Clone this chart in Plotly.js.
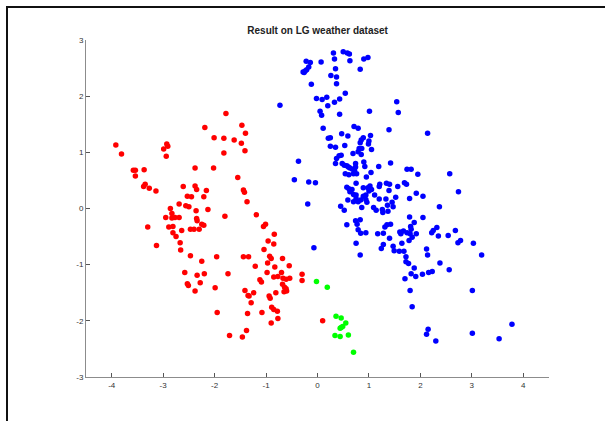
<!DOCTYPE html>
<html>
<head>
<meta charset="utf-8">
<script src="https://cdn.plot.ly/plotly-3.0.1.min.js"></script>
<style>
html,body{margin:0;padding:0;background:#fff;overflow:hidden;}
#chart{position:absolute;left:0;top:0;width:605px;height:421px;}
#frame{position:absolute;left:6px;top:6px;width:700px;height:500px;border:2px solid #111;pointer-events:none;}
</style>
</head>
<body>
<div id="chart"></div>
<div id="frame"></div>
<script>
const titleText = "Result on LG weather dataset";
const xTicks = [-4,-3,-2,-1,0,1,2,3,4];
const yTicks = [-3,-2,-1,0,1,2,3];

const redX = [-1.78,-2.19,-1.47,-1.40,-2.01,-1.82,-1.62,-1.48,-3.92,-2.93,
-2.91,-2.99,-1.41,-1.82,-3.81,-2.94,-2.38,-2.02,-3.58,-3.54,
-3.37,-3.54,-1.55,-3.35,-3.38,-3.27,-3.14,-2.61,-2.38,-2.35,
-2.16,-1.44,-1.42,-2.53,-2.45,-2.21,-1.37,-2.69,-2.56,-2.50,
-2.86,-2.36,-2.13,-1.19,-1.80,-2.95,-2.83,-2.77,-2.69,-2.83,
-2.35,-2.34,-3.30,-2.25,-2.21,-2.89,-2.81,-2.81,-2.75,-2.64,
-2.47,-2.40,-2.30,-3.13,-2.67,-2.66,-2.47,-2.25,-1.96,-1.44,
-1.34,-1.21,-2.58,-2.34,-2.20,-1.74,-1.12,-2.53,-2.51,-2.28,
-2.38,-1.99,-1.41,-1.35,-1.33,-1.24,-1.29,-1.95,-1.36,-1.38,
-1.71,-1.46,-1.05,-1.01,-0.84,-0.96,-0.85,-1.04,-0.93,-0.90,
-0.68,-0.97,-0.83,-0.55,-0.98,-0.70,-0.85,-0.77,-0.67,-0.61,
-0.54,-0.30,-0.30,-1.09,-0.68,-0.64,-0.61,-0.60,-0.65,-0.94,
-0.92,-0.81,-0.89,-0.85,-0.78,-1.08,-0.77,-0.90,0.10];
const redY = [1.69,1.44,1.48,1.34,1.26,1.25,1.22,1.16,1.13,1.15,
1.11,1.06,1.03,0.99,0.97,0.93,0.72,0.72,0.68,0.68,
0.69,0.58,0.55,0.43,0.39,0.36,0.31,0.39,0.40,0.34,
0.32,0.33,0.29,0.22,0.21,0.21,0.12,0.08,0.05,0.03,
0.00,-0.04,-0.02,-0.11,-0.14,-0.16,-0.17,-0.16,-0.16,-0.09,
-0.18,-0.22,-0.33,-0.28,-0.30,-0.33,-0.32,-0.43,-0.50,-0.39,
-0.37,-0.37,-0.37,-0.66,-0.61,-0.74,-0.84,-0.94,-0.86,-0.86,
-0.86,-1.03,-1.14,-1.19,-1.16,-1.16,-1.27,-1.34,-1.37,-1.32,
-1.47,-1.41,-1.46,-1.55,-1.56,-1.50,-1.68,-1.85,-1.87,-2.17,
-2.26,-2.29,-0.32,-0.28,-0.46,-0.58,-0.63,-0.73,-0.85,-0.89,
-0.89,-0.97,-1.04,-1.02,-1.14,-1.14,-1.22,-1.21,-1.24,-1.26,
-1.24,-1.17,-1.28,-1.31,-1.35,-1.40,-1.43,-1.47,-1.48,-1.56,
-1.60,-1.50,-1.76,-1.80,-1.83,-1.85,-1.96,-2.04,-2.00];

const greenX = [-0.02,0.19,0.36,0.46,0.55,0.46,0.49,0.44,0.34,0.44,0.60,0.70];
const greenY = [-1.30,-1.40,-1.92,-1.95,-2.04,-2.12,-2.10,-2.13,-2.26,-2.28,-2.25,-2.56];

const blueX = [0.31,0.50,0.58,0.62,0.33,-0.22,-0.14,0.07,0.63,0.90,
0.98,-0.17,-0.28,-0.24,-0.21,-0.26,0.35,0.83,0.26,0.37,
-0.12,0.37,0.54,-0.02,0.09,0.18,0.33,0.43,0.20,-0.73,
0.05,0.08,0.43,1.01,1.54,1.57,0.11,0.71,0.79,1.39,
2.14,0.47,0.59,0.21,0.25,1.03,0.89,0.85,0.83,1.00,
0.99,0.25,0.35,0.53,0.81,0.86,0.79,1.05,
0.69,0.37,0.42,0.46,0.35,0.85,0.48,0.52,0.57,0.60,
0.63,0.68,0.74,0.74,0.90,0.92,1.19,1.42,-0.37,0.54,
0.61,0.70,0.72,0.76,1.04,0.95,1.74,1.82,1.95,2.57,
-0.45,-0.17,-0.04,0.75,0.57,0.61,0.63,0.67,0.89,0.98,
1.02,1.00,1.05,1.21,1.20,1.34,1.40,1.39,1.56,1.69,
1.73,1.92,2.74,2.05,0.70,0.75,0.89,0.94,1.11,1.20,
1.33,1.52,1.79,0.59,0.70,0.75,0.79,0.84,0.94,0.96,
-0.19,0.45,0.52,0.86,1.09,1.14,1.26,1.27,1.37,1.36,
1.47,1.45,2.37,
1.79,2.05,0.57,0.74,0.77,0.83,0.79,0.84,0.94,1.17,
1.28,1.31,1.35,1.42,1.40,1.28,1.24,1.47,1.49,1.60,
1.62,1.67,1.74,1.81,1.82,1.80,1.88,1.92,1.84,1.64,
1.78,1.59,1.68,1.72,1.72,1.77,1.88,1.82,1.91,1.70,
2.04,2.16,2.23,2.38,2.56,2.12,2.14,2.22,2.25,2.32,
2.35,2.54,2.68,2.73,2.78,3.03,3.19,0.75,0.83,-0.07,
1.80,1.84,3.01,2.15,2.12,3.01,2.30,3.53,3.78];
const blueY = [2.77,2.79,2.77,2.75,2.66,2.62,2.60,2.61,2.63,2.66,
2.69,2.52,2.43,2.45,2.47,2.42,2.49,2.48,2.37,2.34,
2.21,2.22,2.05,1.96,1.94,1.98,1.89,1.95,1.83,1.84,
1.73,1.66,1.68,1.73,1.90,1.71,1.43,1.46,1.43,1.40,
1.34,1.33,1.29,1.25,1.26,1.30,1.26,1.22,1.17,1.20,
1.15,1.11,1.09,1.12,1.07,1.07,1.01,1.05,
0.98,0.89,0.94,0.95,0.80,0.96,0.80,0.77,0.76,0.74,
0.72,0.70,0.80,0.74,0.83,0.75,0.75,0.81,0.84,0.62,
0.60,0.62,0.68,0.62,0.64,0.56,0.70,0.70,0.61,0.62,
0.51,0.47,0.46,0.45,0.38,0.35,0.30,0.34,0.37,0.37,
0.40,0.31,0.34,0.43,0.39,0.45,0.43,0.32,0.39,0.46,
0.43,0.27,0.30,0.22,0.25,0.24,0.22,0.24,0.24,0.17,
0.17,0.20,0.18,0.15,0.12,0.18,0.12,0.15,0.16,0.11,
0.08,0.04,-0.03,0.02,0.02,-0.03,-0.02,-0.07,-0.05,0.06,
0.03,0.11,0.03,
-0.15,-0.16,-0.29,-0.22,-0.28,-0.20,-0.38,-0.44,-0.43,-0.45,
-0.44,-0.33,-0.29,-0.28,-0.53,-0.64,-0.71,-0.67,-0.75,-0.42,
-0.45,-0.40,-0.43,-0.32,-0.37,-0.45,-0.25,-0.45,-0.51,-0.62,
-0.57,-0.76,-0.76,-0.86,-0.95,-0.98,-1.06,-1.16,-1.21,-1.25,
-1.17,-1.14,-1.12,-0.97,-1.09,-0.72,-0.83,-0.43,-0.39,-0.34,
-0.49,-0.48,-0.39,-0.61,-0.57,-0.62,-0.83,-0.62,-0.83,-0.70,
-1.46,-1.75,-1.46,-2.15,-2.24,-2.22,-2.36,-2.32,-2.06];

function pts(x, y, color) {
  return {x: x, y: y, type: 'scatter', mode: 'markers', showlegend: false,
    marker: {color: color, size: 5.5, line: {width: 0}}, hoverinfo: 'skip'};
}

const axisCommon = {
  showgrid: false, zeroline: false, showline: true, linecolor: '#8c8c8c', linewidth: 1,
  ticks: 'inside', ticklen: 4, tickcolor: '#555', tickwidth: 1, mirror: false,
  tickfont: {family: 'Liberation Sans, Arial, sans-serif', size: 8, color: '#333'}
};

const layout = {
  width: 605, height: 421,
  margin: {l: 86, r: 56, t: 40, b: 44},
  paper_bgcolor: '#fff', plot_bgcolor: '#fff',
  title: {text: '<b>' + titleText + '</b>', x: 0.525, xanchor: 'center', y: 0.927, yanchor: 'middle',
    font: {family: 'Liberation Sans, Arial, sans-serif', size: 10, color: '#222'}},
  xaxis: Object.assign({}, axisCommon, {range: [-4.5, 4.5], tickvals: xTicks, ticktext: xTicks.map(String)}),
  yaxis: Object.assign({}, axisCommon, {range: [-3, 3], tickvals: yTicks, ticktext: yTicks.map(String)})
};

Plotly.newPlot('chart', [pts(redX, redY, '#ff0000'), pts(greenX, greenY, '#00ff00'), pts(blueX, blueY, '#0000ff')],
  layout, {staticPlot: true, displayModeBar: false});
</script>
</body>
</html>
